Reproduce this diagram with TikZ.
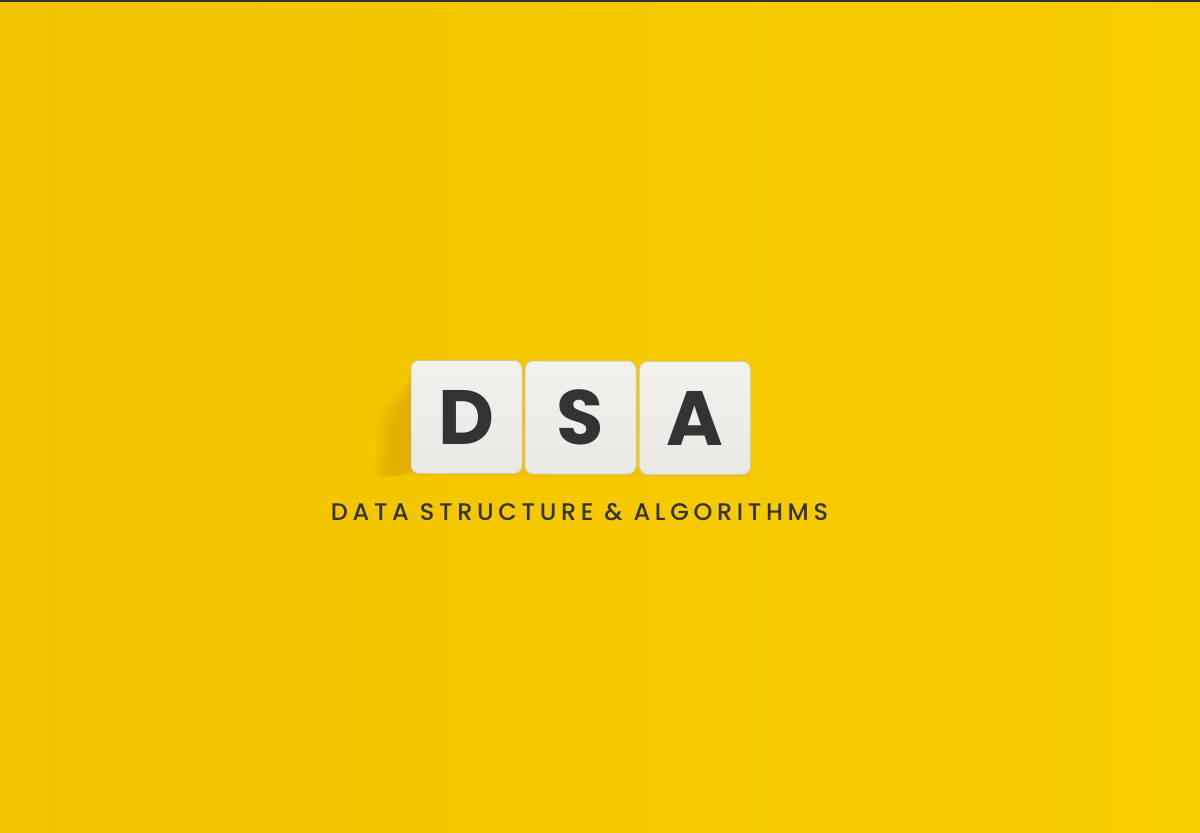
\documentclass[tikz,border=0pt]{standalone}
\usepackage{fontspec}
\newfontfamily\tilefont{Poppins}
\newfontfamily\subfont{Poppins Medium}[LetterSpace=19.5]
\definecolor{bgL}{HTML}{F2C200}
\definecolor{bgR}{HTML}{F9CE00}
\definecolor{tileC}{HTML}{F1F2EE}
\definecolor{tileE}{HTML}{E8E9E4}
\definecolor{ink}{HTML}{333333}
\definecolor{shadowC}{HTML}{D9A000}
\tikzset{
  tile/.style={minimum width=111pt, minimum height=113pt, rounded corners=8pt,
    top color=tileC, bottom color=tileE, draw=tileE!85!black, line width=0.5pt},
  letter/.style={text=ink, font=\tilefont\bfseries\fontsize{77}{77}\selectfont},
  subtitle/.style={text=ink, font=\subfont\fontsize{24}{24}\selectfont}
}
\begin{document}
\begin{tikzpicture}[x=1pt,y=-1pt]
\useasboundingbox (0,0) rectangle (1200,833);
\shade[left color=bgL, right color=bgR] (0,0) rectangle (1200,833);
\fill[black!80] (0,0) rectangle (1200,1.5);
% soft cast shadow to the lower left of the first tile
\foreach \k in {0,...,9}{
  \fill[shadowC, opacity=0.07, rounded corners=6pt]
    (414,{372+1.5*\k}) -- ({378+2*\k},{412+1.5*\k}) -- ({372+2*\k},478) -- (414,{476-\k}) -- cycle;
}
% faint contact shadow below the tiles
\fill[shadowC, opacity=0.15, rounded corners=6pt] (412,468) rectangle (750,477);
\node[tile] (d) at (466.5,417) {};
\node[tile] (s) at (580.5,417.5) {};
\node[tile] (a) at (695,418) {};
\node[letter] (ld) at (d.center) {D};
\node[letter] (ls) at (s.center) {S};
\node[letter] (la) at (a.center) {A};
\node[subtitle] (sub) at (579.5,512) {DATA STRUCTURE \& ALGORITHMS};
\end{tikzpicture}
\end{document}
